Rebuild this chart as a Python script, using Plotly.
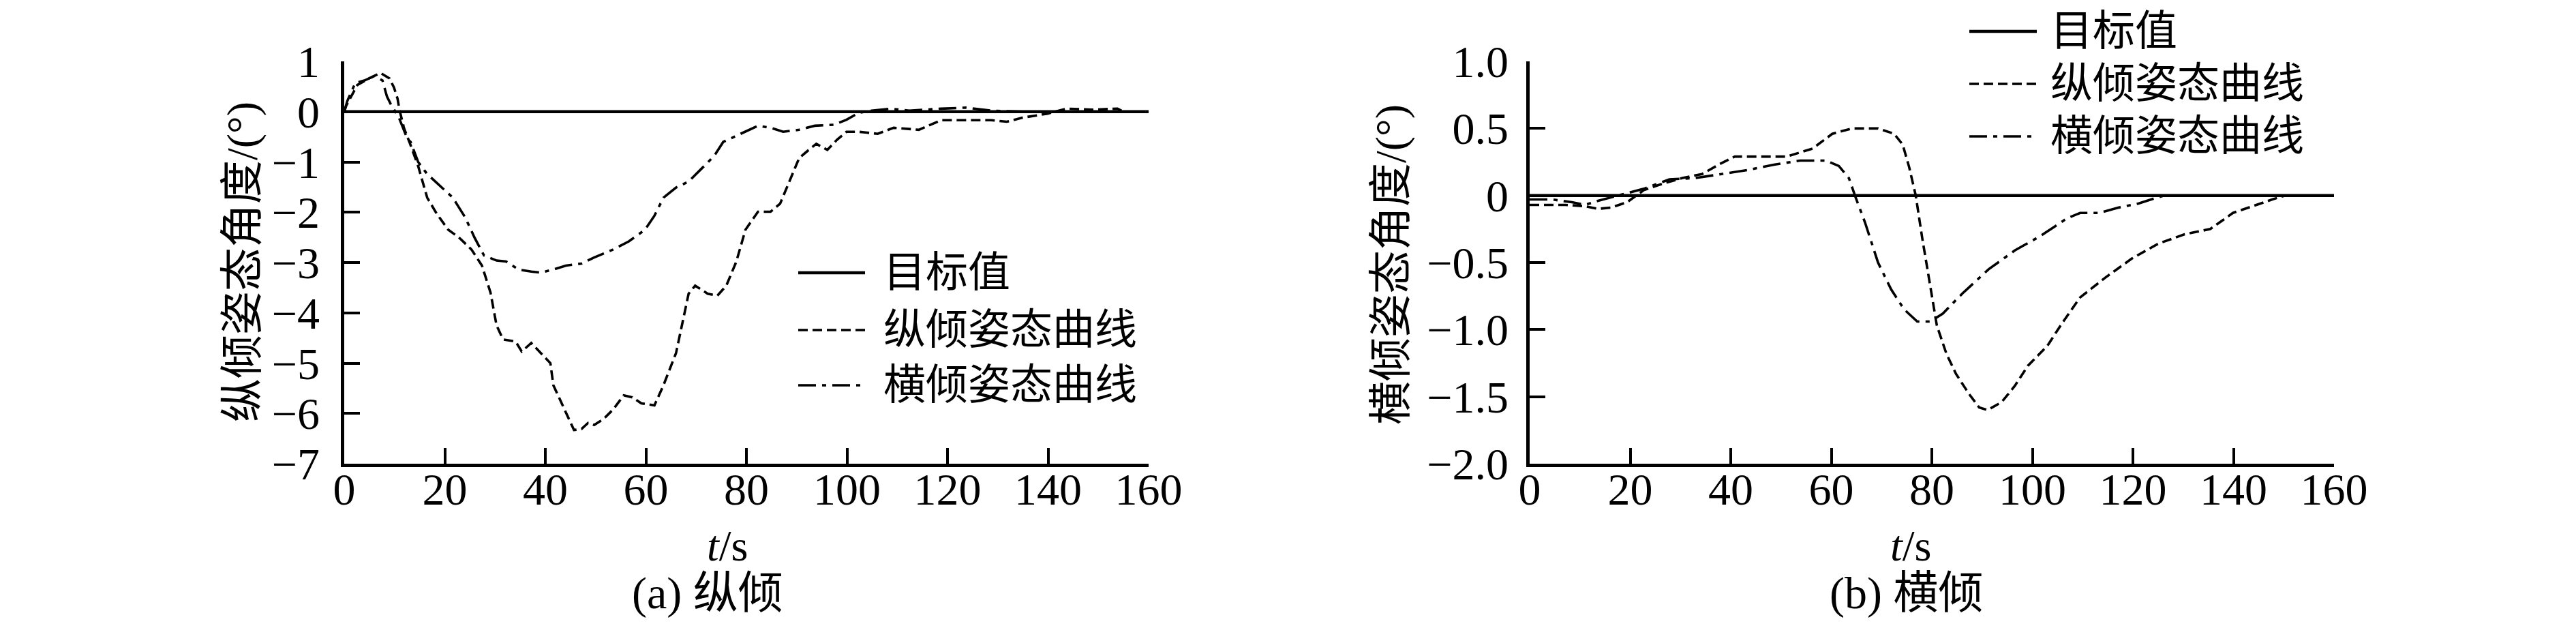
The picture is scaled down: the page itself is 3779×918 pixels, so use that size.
import plotly.graph_objects as go
from plotly.subplots import make_subplots

# ---- data ----
x_ticks = [0, 20, 40, 60, 80, 100, 120, 140, 160]
a_y_ticks = [1, 0, -1, -2, -3, -4, -5, -6, -7]
b_y_ticks = [1.0, 0.5, 0, -0.5, -1.0, -1.5, -2.0]
b_y_ticktext = ["1.0", "0.5", "0", "\u22120.5", "\u22121.0", "\u22121.5", "\u22122.0"]

target_t = [0, 160]
target_v = [0, 0]

# (a) pitch: pitch-attitude curve (dashed)
a_pitch_t = [0, 0.4, 2.6, 4.9, 7.2, 9.0, 9.9, 10.6, 11.0, 11.9, 13.1, 14.7, 16.5, 18.4,
             20.7, 22.8, 25.3, 27.4, 29.1, 30.3, 31.6, 34.1, 35.3, 37.2, 39.1, 41.0, 41.6,
             43.5, 45.7, 47.2, 48.5, 49.7, 51.6, 53.5, 55.6, 57.3, 59.1, 61.7, 63.5, 66.0,
             67.3, 68.5, 69.8, 72.3, 74.2, 76.0, 78.0, 79.8, 82.3, 84.8, 86.7, 88.6, 90.5,
             92.4, 93.9, 96.1, 98.0, 99.9, 102.4, 106.1, 109.3, 114.3, 118.7, 121.2, 128.7,
             131.8, 134.9, 139.9, 143.7, 148.7, 153.8, 155.0]
a_pitch_v = [0.0, 0.12, 0.53, 0.66, 0.77, 0.66, 0.48, 0.26, 0.03, -0.33, -0.64, -1.08, -1.71, -2.03,
             -2.35, -2.5, -2.74, -3.06, -3.6, -4.25, -4.53, -4.57, -4.77, -4.6, -4.8, -5.0, -5.44,
             -5.84, -6.33, -6.31, -6.19, -6.23, -6.11, -5.92, -5.64, -5.68, -5.8, -5.84, -5.44, -4.8,
             -4.17, -3.62, -3.46, -3.62, -3.66, -3.46, -2.98, -2.35, -1.99, -1.99, -1.83, -1.39, -0.92,
             -0.76, -0.64, -0.76, -0.56, -0.4, -0.4, -0.44, -0.32, -0.36, -0.17, -0.17, -0.17,
             -0.2, -0.12, -0.04, 0.06, 0.04, 0.06, 0.0]

# (a) pitch: roll-attitude curve (dash-dot)
a_roll_t = [0, 0.6, 2.2, 4.0, 6.0, 7.6, 8.5, 9.4, 10.8, 11.7, 12.6, 13.2, 14.7, 16.5, 19.0,
            21.6, 24.1, 25.9, 27.8, 30.3, 32.2, 34.7, 37.2, 39.1, 41.6, 44.1, 47.2, 49.7, 53.5,
            56.6, 59.8, 61.7, 63.5, 66.0, 68.5, 71.7, 73.6, 75.4, 78.0, 79.8, 82.3, 84.8, 87.3,
            90.5, 93.6, 97.4, 99.9, 102.4, 104.9, 108.7, 112.4, 118.7, 123.7, 128.7, 134.9, 140.0]
a_roll_v = [0.0, 0.21, 0.57, 0.62, 0.71, 0.62, 0.3, 0.12, -0.1, -0.33, -0.55, -0.6, -1.0, -1.24, -1.47,
            -1.71, -2.11, -2.5, -2.86, -2.96, -2.98, -3.14, -3.18, -3.2, -3.14, -3.06, -3.02, -2.9, -2.74,
            -2.58, -2.35, -2.07, -1.71, -1.51, -1.39, -1.08, -0.88, -0.6, -0.48, -0.4, -0.28, -0.32, -0.4,
            -0.36, -0.28, -0.26, -0.16, -0.02, 0.02, 0.06, 0.02, 0.06, 0.08, 0.02, 0.0, 0.0]

# (b) roll: pitch-attitude curve (dashed)
b_pitch_t = [0, 7.1, 11.0, 13.6, 16.2, 19.4, 22.7, 26.6, 30.4, 34.3, 37.6, 40.8, 46.0, 51.1,
             56.3, 60.2, 64.1, 69.3, 72.5, 74.2, 75.5, 76.8, 78.1, 79.7, 81.0, 82.9, 84.8, 87.4,
             89.4, 91.1, 93.9, 96.5, 99.1, 103.0, 105.6, 109.5, 114.6, 119.8, 125.0, 130.2, 135.4,
             139.9, 144.4, 147.7, 150.3]
b_pitch_v = [-0.07, -0.07, -0.08, -0.1, -0.09, -0.05, 0.04, 0.09, 0.13, 0.16, 0.23, 0.29, 0.29, 0.29,
             0.35, 0.46, 0.5, 0.5, 0.46, 0.38, 0.21, 0.0, -0.32, -0.67, -0.97, -1.18, -1.33, -1.48,
             -1.58, -1.6, -1.54, -1.42, -1.27, -1.12, -0.97, -0.76, -0.61, -0.47, -0.36, -0.29, -0.25,
             -0.13, -0.07, -0.03, 0.0]

# (b) roll: roll-attitude curve (dash-dot)
b_roll_t = [0, 4.5, 8.4, 11.0, 13.6, 17.5, 22.7, 27.8, 33.0, 38.2, 43.4, 48.6, 53.8, 59.0,
            61.5, 63.5, 64.8, 66.7, 69.3, 71.9, 74.5, 77.1, 79.7, 82.2, 86.1, 91.3, 96.5, 101.7,
            106.9, 109.5, 113.3, 117.2, 121.1, 124.4, 126.3]
b_roll_v = [-0.03, -0.03, -0.05, -0.07, -0.04, 0.0, 0.05, 0.12, 0.13, 0.16, 0.19, 0.23, 0.26, 0.26,
            0.22, 0.13, -0.01, -0.2, -0.5, -0.7, -0.85, -0.94, -0.94, -0.88, -0.73, -0.55, -0.41, -0.3,
            -0.17, -0.13, -0.13, -0.09, -0.06, -0.02, 0.0]

legend_names = ["目标值", "纵倾姿态曲线", "横倾姿态曲线"]

# ---- style ----
W, H = 3779, 918
FONT = "Liberation Serif, Noto Sans CJK SC"
DASH = "14px,7px"
DASHDOT = "26px,9px,6px,9px"
STYLES = [dict(width=4.5, dash="solid"), dict(width=3.6, dash=DASH), dict(width=3.6, dash=DASHDOT)]


def px_x(x):
    return x / W


def px_y(y):
    return 1 - y / H


fig = make_subplots(rows=1, cols=2)

panels = [
    (1, [(target_t, target_v), (a_pitch_t, a_pitch_v), (a_roll_t, a_roll_v)]),
    (2, [(target_t, target_v), (b_pitch_t, b_pitch_v), (b_roll_t, b_roll_v)]),
]
for col, series in panels:
    for (t, v), name, st in zip(series, legend_names, STYLES):
        fig.add_trace(
            go.Scatter(x=t, y=v, mode="lines", name=name, showlegend=False,
                       line=dict(color="black", width=st["width"], dash=st["dash"])),
            row=1, col=col,
        )

axis_common = dict(
    showline=True, linecolor="black", linewidth=4.5, mirror=False,
    ticks="inside", ticklen=23, tickwidth=4, tickcolor="black",
    showgrid=False, zeroline=False, automargin=False,
    tickfont=dict(family=FONT, size=66, color="black"),
)

fig.update_xaxes(axis_common, range=[0, 160], tickvals=x_ticks, ticklabelstandoff=-24)
fig.update_xaxes(domain=[px_x(497), px_x(1677)], row=1, col=1)
fig.update_xaxes(domain=[px_x(2236), px_x(3416)], row=1, col=2)

fig.update_yaxes(axis_common, domain=[px_y(672), px_y(82)])
fig.update_yaxes(range=[-7, 1], tickvals=a_y_ticks, ticklabelstandoff=18, row=1, col=1)
fig.update_yaxes(range=[-2, 1], tickvals=b_y_ticks, ticktext=b_y_ticktext,
                 ticklabelstandoff=13, row=1, col=2)

# ---- text: axis titles and captions ----
texts = [
    ("纵倾姿态角度/(°)", 348, 376, 64, -90),
    ("横倾姿态角度/(°)", 2032, 380, 64, -90),
    ("<i>t</i>/s", 1059, 792, 64, 0),
    ("<i>t</i>/s", 2795, 792, 64, 0),
    ("(a) 纵倾", 1030, 862, 66, 0),
    ("(b) 横倾", 2788, 862, 66, 0),
]
for txt, x, y, size, ang in texts:
    fig.add_annotation(text=txt, x=px_x(x), y=px_y(y), xref="paper", yref="paper",
                       xanchor="center", yanchor="middle", showarrow=False, textangle=ang,
                       font=dict(family=FONT, size=size, color="black"))

# ---- legends drawn as line samples + labels ----
legends = [
    (1163, 1261, 1286, [392, 476, 557]),
    (2881, 2980, 2998, [38, 115, 192]),
]
for x0, x1, xt, rows in legends:
    for name, st, yy in zip(legend_names, STYLES, rows):
        fig.add_shape(type="line", xref="paper", yref="paper",
                      x0=px_x(x0), x1=px_x(x1), y0=px_y(yy), y1=px_y(yy),
                      line=dict(color="black", width=st["width"], dash=st["dash"]))
        fig.add_annotation(text=name, x=px_x(xt), y=px_y(yy), xref="paper", yref="paper",
                           xanchor="left", yanchor="middle", showarrow=False,
                           font=dict(family=FONT, size=62, color="black"))

fig.update_layout(
    width=W, height=H,
    margin=dict(l=0, r=0, t=0, b=0),
    paper_bgcolor="white", plot_bgcolor="white",
    showlegend=False,
)

fig.write_html("out.html")
